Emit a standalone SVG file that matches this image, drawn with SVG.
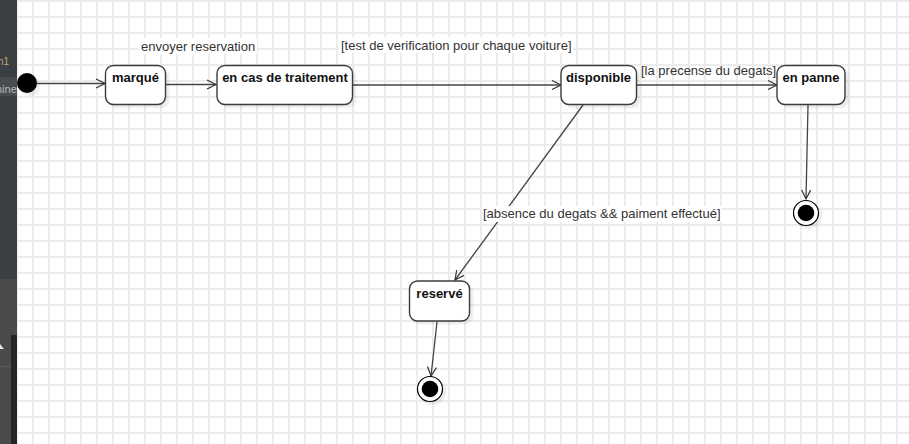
<svg xmlns="http://www.w3.org/2000/svg" width="909" height="444" viewBox="0 0 909 444">
<defs>
<pattern id="grid" x="0" y="0" width="16" height="16" patternUnits="userSpaceOnUse">
<path d="M0 1H16M1 0V16" stroke="#ececec" stroke-width="2" fill="none"/>
</pattern>
<marker id="arr" markerWidth="12" markerHeight="12" refX="10" refY="6" orient="auto" markerUnits="userSpaceOnUse">
<path d="M1 1.5L10 6L1 10.5" fill="none" stroke="#333" stroke-width="1.2"/>
</marker>
<filter id="sh" x="-20%" y="-20%" width="150%" height="150%">
<feGaussianBlur stdDeviation="1"/>
</filter>
</defs>
<style>
.state rect.b{fill:#fff;stroke:#3c3c3c;stroke-width:1.4}
.state rect.s{fill:#000;opacity:0.08}
.state text{font-family:"Liberation Sans",Arial,sans-serif;font-size:13px;font-weight:bold;fill:#111;text-anchor:middle}
.lbl{font-family:"Liberation Sans",Arial,sans-serif;font-size:13px;fill:#333}
.conn path{fill:none;stroke:#444;stroke-width:1.3;marker-end:url(#arr)}
.sh{fill:#000;opacity:0.08}
</style>
<rect width="909" height="444" fill="#fff"/>
<rect x="17" y="0" width="892" height="444" fill="url(#grid)"/>
<g id="sidepanel">
<rect x="0" y="0" width="17" height="279" fill="#3a3f43"/>
<rect x="0" y="77" width="17" height="19" fill="#474c50"/>
<rect x="0" y="279" width="17" height="165" fill="#494a4b"/>
<rect x="11" y="335" width="6" height="109" fill="#252525"/>
<rect x="0" y="366" width="11" height="1" fill="#5c5c5c"/>
<path d="M0 344L4 349H0Z" fill="#e6e6e6"/>
<text x="-2" y="65" font-family="Liberation Sans,Arial,sans-serif" font-size="10" fill="#c9a46c">n1</text>
<text x="-4" y="93" font-family="Liberation Sans,Arial,sans-serif" font-size="11" fill="#b8b8b8">nine</text>
</g>
<g id="connectors" class="conn">
<path d="M37 83.5H105"/>
<path d="M166 84.5H216"/>
<path d="M353 85H561"/>
<path d="M637 85H777"/>
<path d="M808 105L806 199"/>
<path d="M583 105L455 280"/>
<path d="M437 322L431 376"/>
</g>
<g id="labels">
<rect x="139" y="38" width="118" height="16" fill="#fff"/>
<text class="lbl" x="141" y="51">envoyer reservation</text>
<rect x="339" y="37" width="234" height="16" fill="#fff"/>
<text class="lbl" x="341" y="50">[test de verification pour chaque voiture]</text>
<text class="lbl" x="641" y="75">[la precense du degats]</text>
<rect x="482" y="206" width="240" height="16" fill="#fff"/>
<text class="lbl" x="483" y="218">[absence du degats &amp;&amp; paiment effectué]</text>
</g>
<g id="initial">
<circle cx="30" cy="86" r="10" class="sh" filter="url(#sh)"/>
<circle cx="27" cy="83" r="10" fill="#000"/>
</g>
<g id="marque" class="state">
<rect class="s" x="108" y="68" width="61" height="40" rx="8" filter="url(#sh)"/>
<rect class="b" x="105.5" y="65.5" width="60" height="39" rx="8"/>
<text x="135.5" y="82">marqué</text>
</g>
<g id="traitement" class="state">
<rect class="s" x="220" y="68" width="136" height="40" rx="8" filter="url(#sh)"/>
<rect class="b" x="217" y="65.5" width="135.5" height="39" rx="8"/>
<text x="285" y="82">en cas de traitement</text>
</g>
<g id="disponible" class="state">
<rect class="s" x="564" y="68" width="76" height="40" rx="8" filter="url(#sh)"/>
<rect class="b" x="561" y="65.5" width="75.5" height="39" rx="8"/>
<text x="598.5" y="82">disponible</text>
</g>
<g id="enpanne" class="state">
<rect class="s" x="780" y="68" width="69" height="40" rx="8" filter="url(#sh)"/>
<rect class="b" x="777" y="65.5" width="68" height="39" rx="8"/>
<text x="811" y="82">en panne</text>
</g>
<g id="reserve" class="state">
<rect class="s" x="412" y="284" width="61" height="40" rx="8" filter="url(#sh)"/>
<rect class="b" x="409.5" y="281" width="60" height="40" rx="8"/>
<text x="439.5" y="298">reservé</text>
</g>
<g id="final1">
<circle cx="809" cy="216" r="13" class="sh" filter="url(#sh)"/>
<circle cx="806" cy="213" r="12.5" fill="#fff" stroke="#000" stroke-width="1.2"/>
<circle cx="806" cy="213" r="8.3" fill="#000"/>
</g>
<g id="final2">
<circle cx="433" cy="392" r="13" class="sh" filter="url(#sh)"/>
<circle cx="430" cy="389" r="12.5" fill="#fff" stroke="#000" stroke-width="1.2"/>
<circle cx="430" cy="389" r="8.3" fill="#000"/>
</g>
</svg>
